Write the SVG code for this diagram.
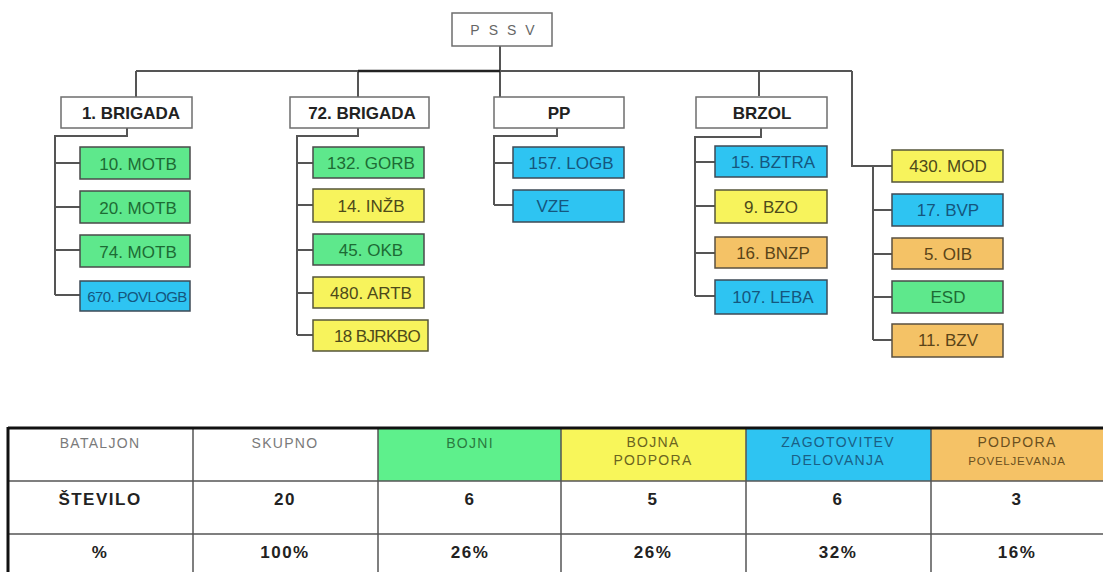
<svg xmlns="http://www.w3.org/2000/svg" width="1103" height="572" viewBox="0 0 1103 572">
<style>
text{font-family:"Liberation Sans",Arial,sans-serif;text-anchor:middle}
.w{fill:#fff;stroke:#6e6e6e;stroke-width:1.5}
.g{fill:#5ee88c;stroke:#4a4a4a;stroke-width:1.5}
.b{fill:#2ec4f2;stroke:#3e4a55;stroke-width:1.5}
.y{fill:#f7f35c;stroke:#55553a;stroke-width:1.5}
.o{fill:#f4c266;stroke:#5a5040;stroke-width:1.5}
.tw{font-size:17px;font-weight:bold;fill:#222}
.tg{font-size:17px;fill:#1d6b34}
.tb{font-size:17px;fill:#15567e}
.ty{font-size:17px;fill:#4d4a1a}
.to{font-size:17px;fill:#5a4418}
.c{fill:none;stroke:#555;stroke-width:2}
.h{font-size:14px;fill:#7a7a7a;letter-spacing:1.3px}
.bd{font-size:17px;font-weight:bold;fill:#222;letter-spacing:1.5px}
.tl{stroke:#555;stroke-width:1.5}
</style>
<g id="connectors">
<path class="c" d="M500 46V71M136 71H852M136 71V97M358 71V97M500 71V97M759 71V96M852 71V166H892"/>
<path d="M358 71H500" stroke="#222" stroke-width="2.5" fill="none"/>
<path class="c" d="M127 128V136H55V295M55 163H80M55 207H80M55 250H80M55 295H80"/>
<path class="c" d="M358 128V136H297V335M297 163H313M297 205H313M297 250H313M297 293H313M297 335H313"/>
<path class="c" d="M557 128V136H494V205M494 163H513M494 205H513"/>
<path class="c" d="M761 128V137H695V296M695 162H715M695 206H715M695 253H715M695 296H715"/>
<path class="c" d="M873 166V340M873 210H892M873 254H892M873 297H892M873 340H892"/>
</g>
<g id="pssv"><rect class="w" x="452" y="13" width="100" height="33"/><text x="507" y="35" style="font-size:14px;fill:#666;letter-spacing:9px">PSSV</text></g>
<g id="brig1"><rect class="w" x="61" y="97" width="131" height="31"/><text class="tw" x="131" y="119">1. BRIGADA</text></g>
<g id="brig72"><rect class="w" x="290" y="97" width="139" height="31"/><text class="tw" x="362" y="119">72. BRIGADA</text></g>
<g id="pp"><rect class="w" x="494" y="97" width="130" height="31"/><text class="tw" x="559" y="119">PP</text></g>
<g id="brzol"><rect class="w" x="696" y="97" width="131" height="31"/><text class="tw" x="762" y="119">BRZOL</text></g>

<g id="motb10"><rect class="g" x="80" y="147" width="110" height="32"/><text class="tg" x="138" y="170">10. MOTB</text></g>
<g id="motb20"><rect class="g" x="80" y="191" width="110" height="32"/><text class="tg" x="138" y="214">20. MOTB</text></g>
<g id="motb74"><rect class="g" x="80" y="235" width="110" height="32"/><text class="tg" x="138" y="258">74. MOTB</text></g>
<g id="povlogb670"><rect class="b" x="80" y="281" width="110" height="30"/><text class="tb" x="137" y="302" style="font-size:15px;letter-spacing:-0.6px">670. POVLOGB</text></g>

<g id="gorb132"><rect class="g" x="313" y="147" width="111" height="31"/><text class="tg" x="371" y="169">132. GORB</text></g>
<g id="inzb14"><rect class="y" x="313" y="189" width="111" height="33"/><text class="ty" x="371" y="212">14. INŽB</text></g>
<g id="okb45"><rect class="g" x="313" y="234" width="111" height="31"/><text class="tg" x="371" y="256">45. OKB</text></g>
<g id="artb480"><rect class="y" x="313" y="277" width="111" height="31"/><text class="ty" x="371" y="299">480. ARTB</text></g>
<g id="bjrkbo18"><rect class="y" x="313" y="320" width="115" height="31"/><text class="ty" x="377" y="342" style="letter-spacing:-0.6px">18 BJRKBO</text></g>

<g id="logb157"><rect class="b" x="513" y="147" width="111" height="31"/><text class="tb" x="571" y="169">157. LOGB</text></g>
<g id="vze"><rect class="b" x="513" y="190" width="111" height="32"/><text class="tb" x="553" y="212">VZE</text></g>

<g id="bztra15"><rect class="b" x="715" y="146" width="112" height="31"/><text class="tb" x="773" y="168">15. BZTRA</text></g>
<g id="bzo9"><rect class="y" x="715" y="190" width="112" height="33"/><text class="ty" x="771" y="213">9. BZO</text></g>
<g id="bnzp16"><rect class="o" x="715" y="237" width="112" height="31"/><text class="to" x="773" y="259">16. BNZP</text></g>
<g id="leba107"><rect class="b" x="715" y="280" width="112" height="34"/><text class="tb" x="773" y="303">107. LEBA</text></g>

<g id="mod430"><rect class="y" x="892" y="150" width="111" height="32"/><text class="ty" x="948" y="172">430. MOD</text></g>
<g id="bvp17"><rect class="b" x="892" y="194" width="111" height="32"/><text class="tb" x="948" y="216">17. BVP</text></g>
<g id="oib5"><rect class="o" x="892" y="238" width="111" height="31"/><text class="to" x="948" y="260">5. OIB</text></g>
<g id="esd"><rect class="g" x="892" y="281" width="111" height="32"/><text class="tg" x="948" y="303">ESD</text></g>
<g id="bzv11"><rect class="o" x="892" y="324" width="111" height="33"/><text class="to" x="948" y="346">11. BZV</text></g>

<g id="table">
<rect x="378" y="428" width="183" height="53" fill="#5ef08c"/>
<rect x="561" y="428" width="185" height="53" fill="#f8f65a"/>
<rect x="746" y="428" width="185" height="53" fill="#2ec4f2"/>
<rect x="931" y="428" width="172" height="53" fill="#f5c266"/>
<path class="tl" d="M8 481H1103M8 534H1103M193 428V572M378 428V572M561 428V572M746 428V572M931 428V572"/>
<path d="M8 428H1103M8 427V572" stroke="#111" stroke-width="3" fill="none"/>
<text class="h" x="100" y="448">BATALJON</text>
<text class="h" x="285" y="448">SKUPNO</text>
<text class="h" x="470" y="448" style="fill:#2a7a40">BOJNI</text>
<text class="h" x="653" y="447" style="fill:#6a6420">BOJNA</text>
<text class="h" x="653" y="465" style="fill:#6a6420">PODPORA</text>
<text class="h" x="838" y="447" style="fill:#1a5f85">ZAGOTOVITEV</text>
<text class="h" x="838" y="465" style="fill:#1a5f85">DELOVANJA</text>
<text class="h" x="1017" y="447" style="fill:#6a5020">PODPORA</text>
<text class="h" x="1017" y="465" style="fill:#6a5020;font-size:11.5px;letter-spacing:0.8px">POVELJEVANJA</text>
<text class="bd" x="100" y="505">ŠTEVILO</text>
<text class="bd" x="285" y="505">20</text>
<text class="bd" x="470" y="505">6</text>
<text class="bd" x="653" y="505">5</text>
<text class="bd" x="838" y="505">6</text>
<text class="bd" x="1017" y="505">3</text>
<text class="bd" x="100" y="558">%</text>
<text class="bd" x="285" y="558">100%</text>
<text class="bd" x="470" y="558">26%</text>
<text class="bd" x="653" y="558">26%</text>
<text class="bd" x="838" y="558">32%</text>
<text class="bd" x="1017" y="558">16%</text>
</g>
</svg>
